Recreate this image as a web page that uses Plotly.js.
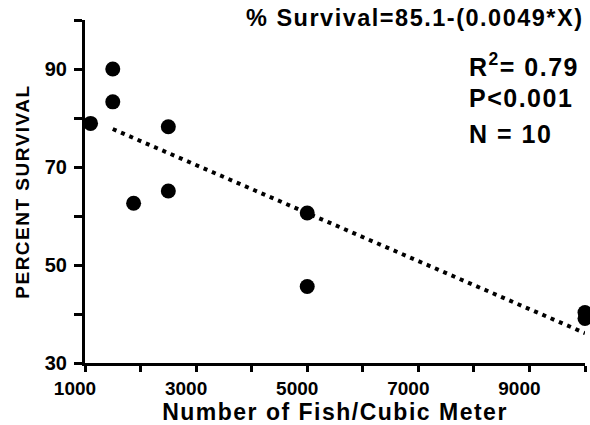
<!DOCTYPE html>
<html>
<head>
<meta charset="utf-8">
<script src="https://cdn.plot.ly/plotly-3.0.1.min.js"></script>
<style>
  html, body { margin: 0; padding: 0; background: #fff; }
  #chart { width: 590px; height: 425px; }
  .annotation text, .g-xtitle text, .g-ytitle text { letter-spacing: 1.5px; }
</style>
</head>
<body>
<div id="chart"></div>
<script>
// Stocking density (fish per cubic metre) and percent survival
const density = [1100, 1500, 1500, 1875, 2500, 2500, 5000, 5000, 10000, 10000];
const survival = [78.9, 90.0, 83.3, 62.6, 78.2, 65.1, 60.6, 45.6, 40.3, 39.1];

// Linear fit: % Survival = intercept + slope * X
const fitIntercept = 85.1;
const fitSlope = -0.0049;
const fitRange = [1500, 10000];
const fitLine = fitRange.map(x => fitIntercept + fitSlope * x);

// Fit statistics
const rSquared = '0.79';
const pValue = '0.001';
const nObs = density.length;

const xTickVals = [1000, 3000, 5000, 7000, 9000];
const yTickVals = [30, 50, 70, 90];

const FONT = 'Liberation Sans, Arial, Helvetica, sans-serif';

const traces = [
  {
    x: fitRange, y: fitLine,
    type: 'scatter', mode: 'lines',
    line: { color: '#000', width: 4, dash: '4px,5px' },
    hoverinfo: 'skip', showlegend: false
  },
  {
    x: density, y: survival,
    type: 'scatter', mode: 'markers',
    marker: { color: '#000', size: 15, line: { width: 0 } },
    cliponaxis: false, showlegend: false
  }
];

const boldFont = (size) => ({ family: FONT, size: size, color: '#000', weight: 'bold' });

const axisCommon = {
  showline: true, linecolor: '#000', linewidth: 3,
  showgrid: false, zeroline: false,
  ticks: 'outside', tickcolor: '#000', tickwidth: 3,
  fixedrange: true
};

const statLabel = (y, text) => ({
  xref: 'paper', yref: 'paper', x: 0.764, y: y,
  xanchor: 'left', yanchor: 'bottom', align: 'left', showarrow: false,
  text: text, font: boldFont(25)
});

const layout = {
  width: 590, height: 425,
  margin: { l: 85, r: 5, t: 20, b: 62 },
  paper_bgcolor: '#fff', plot_bgcolor: '#fff',
  showlegend: false,
  xaxis: Object.assign({}, axisCommon, {
    range: [1000, 10000],
    tickvals: xTickVals,
    ticklen: 6,
    ticklabelshift: -10,
    tickfont: boldFont(19),
    minor: { dtick: 1000, tick0: 1000, ticks: 'outside', ticklen: 6, tickwidth: 3, tickcolor: '#000' },
    title: { text: 'Number of Fish/Cubic Meter', font: boldFont(23), standoff: 6 }
  }),
  yaxis: Object.assign({}, axisCommon, {
    range: [30, 100],
    tickvals: yTickVals,
    ticklen: 8,
    tickfont: boldFont(20),
    ticklabelstandoff: 3,
    minor: { dtick: 10, tick0: 30, ticks: 'outside', ticklen: 8, tickwidth: 3, tickcolor: '#000' },
    title: { text: 'PERCENT SURVIVAL', font: boldFont(19), standoff: 11 }
  }),
  annotations: [
    {
      xref: 'paper', yref: 'paper', x: 0.318, y: 0.963,
      xanchor: 'left', yanchor: 'bottom', align: 'left', showarrow: false,
      text: '% Survival=' + fitIntercept + '-(' + Math.abs(fitSlope) + '*X)',
      font: boldFont(23.5)
    },
    statLabel(0.816, 'R<sup>2</sup>= ' + rSquared),
    statLabel(0.725, 'P&lt;' + pValue),
    statLabel(0.62, 'N = ' + nObs)
  ]
};

Plotly.newPlot('chart', traces, layout, { displayModeBar: false, staticPlot: true });
</script>
</body>
</html>
